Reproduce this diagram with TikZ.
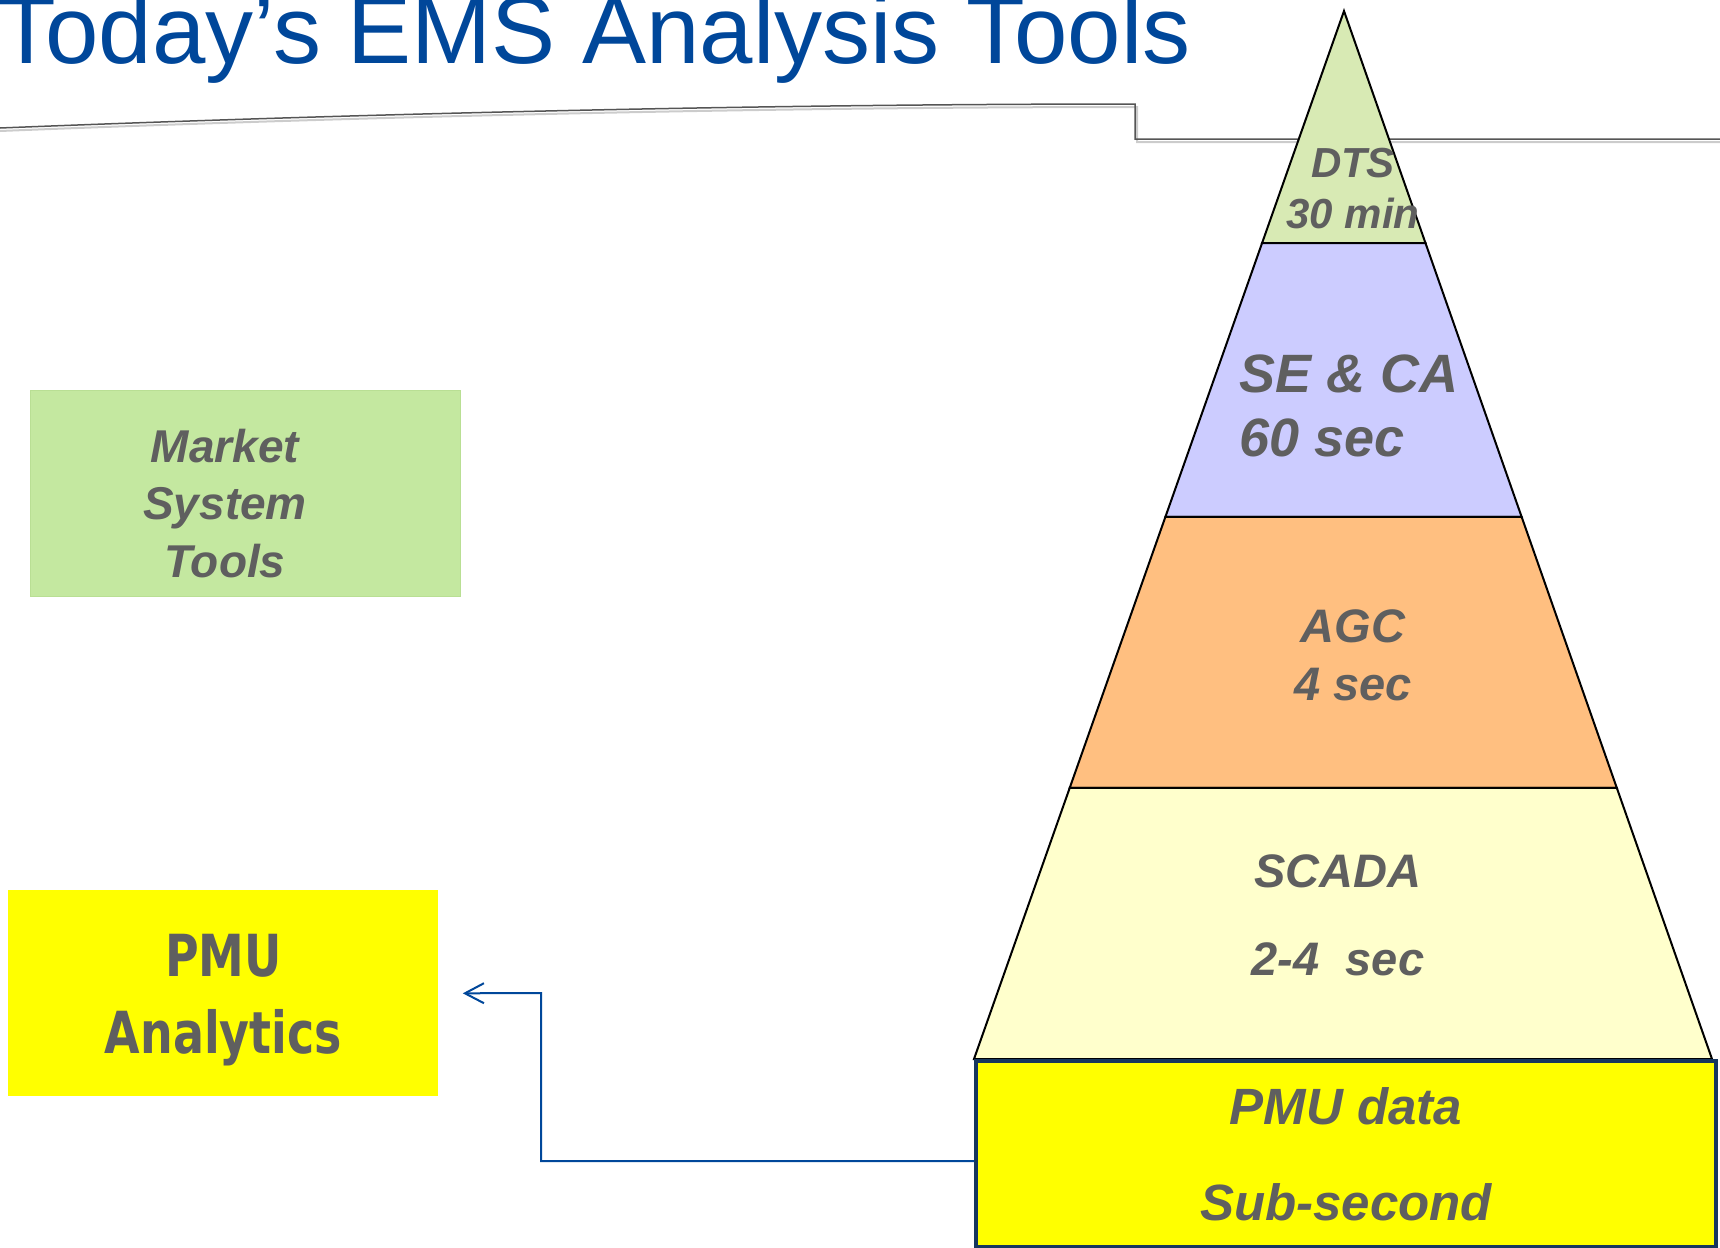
\documentclass[tikz,border=0pt]{standalone}
\usepackage{fontspec}
\setmainfont{Liberation Sans}
\newfontfamily\condsans[FakeStretch=0.88]{DejaVu Sans Condensed}
\usetikzlibrary{arrows.meta,calc,positioning}
\definecolor{titleblue}{HTML}{00479A}
\definecolor{rulegray}{HTML}{555555}
\definecolor{labelgray}{HTML}{5F5F5F}
\definecolor{dtsgreen}{HTML}{D8EAB4}
\definecolor{selilac}{HTML}{CCCCFF}
\definecolor{agcorange}{HTML}{FFBF80}
\definecolor{scadacream}{HTML}{FFFFCC}
\definecolor{pmuyellow}{HTML}{FFFF00}
\definecolor{pmunavy}{HTML}{17375E}
\definecolor{mktgreen}{HTML}{C4E8A0}
\definecolor{mktedge}{HTML}{B9DF94}
\definecolor{linkblue}{HTML}{00479A}
\tikzset{
  >=Stealth,
  layer/.style={draw=black,line width=1pt},
  tier/.style={text=labelgray,inner sep=0pt,align=center},
  toolbox/.style={rectangle,inner sep=0pt,
                  minimum width=215pt,minimum height=103pt},
  pmubox/.style={rectangle,draw=pmunavy,line width=2pt,fill=pmuyellow,
                 minimum width=370pt,minimum height=93pt,inner sep=0pt,
                 align=center,text=labelgray},
  feed/.style={-{Straight Barb[length=9.5pt,width=10pt]},draw=linkblue,
               line width=1pt},
}

\begin{document}
\begin{tikzpicture}[x=0.5pt,y=-0.5pt]
    \clip (0,0) rectangle (1720,1248);

    % Title and header rule
    \node[anchor=base west,inner sep=0pt,text=titleblue,
          font=\fontsize{48}{57}\selectfont] (title) at (-3,63)
          {Today’s EMS Analysis Tools};
    \draw[gray!40,line width=1pt] (0,131) .. controls (400,115) and (800,107)
          .. (1137,107) -- (1137,142) -- (1720,142);
    \draw[rulegray,line width=0.75pt] (0,128) .. controls (400,112) and (800,104)
          .. (1135,104) -- (1135,139) -- (1720,139);

    % Pyramid
    \coordinate (apex) at (1344,11);
    \coordinate (bl) at (974,1059);
    \coordinate (br) at (1712,1059);
    \foreach \t/\n in {0.2214/a,0.4828/b,0.7414/c}{
      \coordinate (l\n) at ($(apex)!\t!(bl)$);
      \coordinate (r\n) at ($(apex)!\t!(br)$);
    }
    \filldraw[layer,fill=dtsgreen]   (apex) -- (ra) -- (la) -- cycle;
    \filldraw[layer,fill=selilac]    (la) -- (ra) -- (rb) -- (lb) -- cycle;
    \filldraw[layer,fill=agcorange]  (lb) -- (rb) -- (rc) -- (lc) -- cycle;
    \filldraw[layer,fill=scadacream] (lc) -- (rc) -- (br) -- (bl) -- cycle;

    % Layer labels (base = last line)
    \node[tier,anchor=base,font=\bfseries\itshape\fontsize{21}{25.5}\selectfont]
          (dts) at (1353,228) {DTS\\30 min};
    \node[tier,anchor=base west,align=left,
          font=\bfseries\itshape\fontsize{27}{32}\selectfont]
          (seca) at (1239,456) {SE \& CA\\60 sec};
    \node[tier,anchor=base,font=\bfseries\itshape\fontsize{23.5}{29}\selectfont]
          (agc) at (1353,700) {AGC\\4 sec};
    \node[tier,anchor=base,font=\bfseries\itshape\fontsize{23.5}{44}\selectfont]
          (scada) at (1338,975) {SCADA\\2-4\ \ sec};

    % PMU data base
    \node[pmubox,anchor=north west,
          font=\bfseries\itshape\fontsize{25.5}{48}\selectfont]
          (pmudata) at (974,1059) {PMU data\\Sub-second};

    % Side boxes
    \node[toolbox,fill=mktgreen,draw=mktedge,line width=0.5pt,
          anchor=north west] (market) at (30,390) {};
    \node[tier,anchor=base,font=\bfseries\itshape\fontsize{23}{28.75}\selectfont]
          (markettext) at (225,577) {Market\\System\\Tools};
    \node[toolbox,fill=pmuyellow,anchor=north west,text=labelgray,align=center,
          text depth=0pt,font=\condsans\bfseries\fontsize{29}{38.5}\selectfont]
          (analytics) at (8,890) {PMU\\Analytics};

    % Feed arrow
    \coordinate (bend) at (541,993);
    \draw[feed,shorten >=12pt] ([yshift=-3.5pt]pmudata.west) -| (bend)
          -- (analytics.east);
\end{tikzpicture}
\end{document}
